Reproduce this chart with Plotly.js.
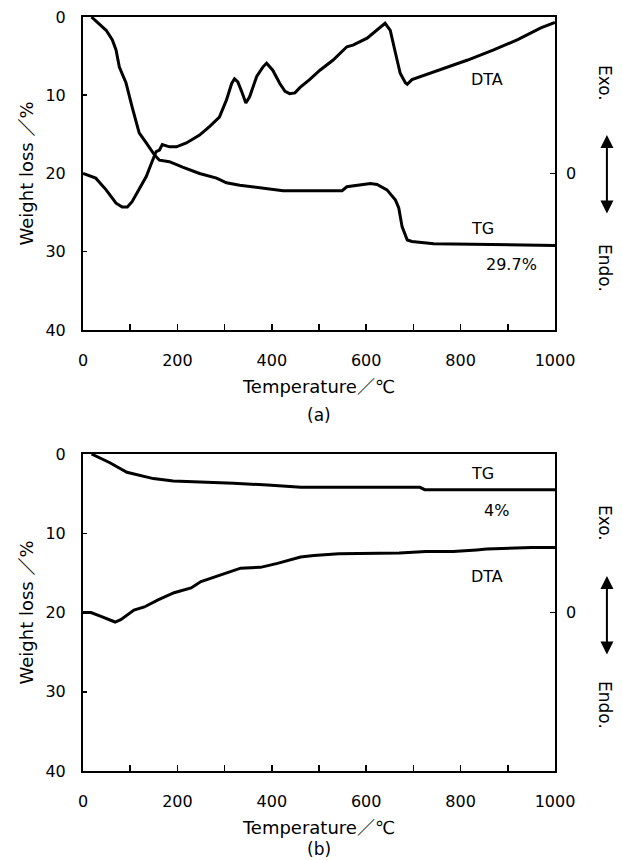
<!DOCTYPE html>
<html>
<head>
<meta charset="utf-8">
<script src="https://cdn.plot.ly/plotly-3.0.1.min.js"></script>
<style>html,body{margin:0;padding:0;background:#fff;}#chart{width:622px;height:860px;}</style>
</head>
<body>
<div id="chart"></div>
<script>
// ---- (a) TG: temperature (°C) and weight loss (%) ----
var tgA_T = [18, 35, 49, 62, 70, 77, 91, 104, 119, 134, 151, 162, 183, 211, 247, 283, 304, 332, 360, 389, 424, 549, 559, 609, 623, 644, 662, 669, 676, 687, 697, 743, 836, 1000];
var tgA_W = [0, 0.9, 1.7, 2.9, 4.2, 6.4, 8.4, 11.5, 14.8, 16.1, 17.6, 18.3, 18.5, 19.2, 20.0, 20.6, 21.2, 21.5, 21.7, 21.9, 22.2, 22.2, 21.7, 21.3, 21.4, 22.1, 23.4, 24.4, 26.8, 28.5, 28.7, 29.0, 29.1, 29.2];

// ---- (a) DTA: temperature (°C) and signal (0 = baseline, + = Exo.) ----
var dtaA_T = [0, 27, 49, 70, 83, 94, 104, 119, 134, 145, 155, 162, 168, 183, 198, 219, 247, 268, 289, 304, 315, 321, 328, 336, 345, 353, 368, 381, 389, 402, 417, 428, 438, 449, 460, 480, 502, 530, 559, 572, 602, 640, 651, 662, 672, 683, 687, 697, 743, 815, 870, 921, 970, 1000];
var dtaA_S = [0, -0.6, -2.1, -3.8, -4.3, -4.3, -3.6, -1.9, -0.4, 1.3, 2.8, 3.0, 3.7, 3.4, 3.4, 3.9, 4.9, 6.0, 7.2, 9.4, 11.5, 12.1, 11.7, 10.5, 9.0, 9.8, 12.4, 13.6, 14.1, 13.2, 11.5, 10.5, 10.2, 10.3, 11.0, 12.0, 13.2, 14.5, 16.2, 16.4, 17.3, 19.2, 18.3, 15.4, 12.8, 11.6, 11.4, 12.0, 13.0, 14.5, 15.8, 17.1, 18.6, 19.3];

// ---- (b) TG ----
var tgB_T = [18, 57, 93, 121, 149, 191, 249, 319, 391, 462, 714, 724, 1000];
var tgB_W = [0, 1.1, 2.3, 2.7, 3.1, 3.4, 3.5, 3.7, 3.9, 4.2, 4.2, 4.5, 4.5];

// ---- (b) DTA ----
var dtaB_T = [0, 17, 38, 55, 68, 80, 93, 108, 130, 159, 193, 229, 250, 278, 306, 334, 376, 412, 461, 489, 542, 670, 727, 784, 834, 855, 951, 1000];
var dtaB_S = [0, 0, -0.5, -0.9, -1.2, -0.9, -0.3, 0.3, 0.7, 1.6, 2.5, 3.1, 3.9, 4.5, 5.1, 5.6, 5.7, 6.2, 7.0, 7.2, 7.4, 7.5, 7.7, 7.7, 7.9, 8.0, 8.2, 8.2];

// ---- axis ticks / labels ----
var weightTicks = [0, 10, 20, 30, 40];
var tempTickVals = [0, 100, 200, 300, 400, 500, 600, 700, 800, 900, 1000];
var tempTickText = ['0', '', '200', '', '400', '', '600', '', '800', '', '1000'];
var dtaTickVals = [0];
var dtaTickText = ['0'];

var FONT = 'DejaVu Sans, Liberation Sans, Noto Sans CJK JP, sans-serif';
var lineStyle = {color: '#000', width: 3};

var traces = [
  {x: tgA_T, y: tgA_W, xaxis: 'x', yaxis: 'y', mode: 'lines', line: lineStyle, name: 'TG (a)'},
  {x: dtaA_T, y: dtaA_S, xaxis: 'x', yaxis: 'y3', mode: 'lines', line: lineStyle, name: 'DTA (a)'},
  {x: tgB_T, y: tgB_W, xaxis: 'x2', yaxis: 'y2', mode: 'lines', line: lineStyle, name: 'TG (b)'},
  {x: dtaB_T, y: dtaB_S, xaxis: 'x2', yaxis: 'y4', mode: 'lines', line: lineStyle, name: 'DTA (b)'}
];

function xAxis(anchor) {
  return {
    anchor: anchor, domain: [0, 1], range: [0, 1000],
    tickvals: tempTickVals, ticktext: tempTickText,
    ticks: 'inside', ticklen: 6, tickwidth: 1.5, tickcolor: '#000',
    showline: true, mirror: true, linewidth: 2, linecolor: '#000',
    showgrid: false, zeroline: false,
    ticklabelstandoff: 15,
    tickfont: {family: FONT, size: 16, color: '#000'},
    title: {text: 'Temperature／℃', font: {family: FONT, size: 18, color: '#000'}, standoff: 11}
  };
}
function yAxis(anchor, domain) {
  return {
    anchor: anchor, domain: domain, range: [40, 0],
    tickvals: weightTicks, ticks: 'inside', ticklen: 4, tickwidth: 1.5, tickcolor: '#000',
    showline: true, mirror: true, linewidth: 2, linecolor: '#000',
    showgrid: false, zeroline: false,
    ticklabelstandoff: 12,
    tickfont: {family: FONT, size: 16, color: '#000'},
    title: {text: 'Weight loss ／%', font: {family: FONT, size: 18, color: '#000'}, standoff: 7}
  };
}
function rAxis(base, anchor) {
  return {
    overlaying: base, anchor: anchor, side: 'right', range: [-20, 20],
    tickvals: dtaTickVals, ticktext: dtaTickText, ticks: 'inside', ticklen: 5, tickwidth: 1.5, tickcolor: '#000',
    showline: false, showgrid: false, zeroline: false,
    ticklabelstandoff: 10,
    tickfont: {family: FONT, size: 16, color: '#000'}
  };
}

var txt = function (t, x, y, xref, yref, extra) {
  var a = {text: t, x: x, y: y, xref: xref, yref: yref, showarrow: false,
           font: {family: FONT, size: 16, color: '#000'}, xanchor: 'center', yanchor: 'middle'};
  for (var k in extra) a[k] = extra[k];
  return a;
};
var arrow = function (yTop) {
  return {text: '', x: 1.11, y: yTop, xref: 'paper', yref: 'paper', showarrow: true,
          ax: 0, ay: 80, axref: 'pixel', ayref: 'pixel', arrowside: 'end+start',
          arrowhead: 2, arrowsize: 1.3, arrowwidth: 2, arrowcolor: '#000', standoff: 0, startstandoff: 0};
};
var sideFont = {family: FONT, size: 17, color: '#000'};
var subFont = {family: FONT, size: 17, color: '#000'};

var layout = {
  width: 622, height: 860,
  margin: {l: 83, r: 67, t: 17, b: 89},
  paper_bgcolor: '#fff', plot_bgcolor: '#fff',
  showlegend: false,
  font: {family: FONT, color: '#000'},
  xaxis: xAxis('y'),
  yaxis: yAxis('x', [0.585, 1]),
  yaxis3: rAxis('y', 'x'),
  xaxis2: xAxis('y2'),
  yaxis2: yAxis('x2', [0, 0.4204]),
  yaxis4: rAxis('y2', 'x2'),
  annotations: [
    txt('DTA', 856, 8.0, 'x', 'y'),
    txt('TG', 847, 27.0, 'x', 'y'),
    txt('29.7%', 907, 31.7, 'x', 'y'),
    txt('TG', 847, 2.4, 'x2', 'y2'),
    txt('4%', 877, 7.1, 'x2', 'y2'),
    txt('DTA', 856, 15.5, 'x2', 'y2'),
    txt('Exo.', 1.106, 0.9125, 'paper', 'paper', {textangle: 90, font: sideFont}),
    txt('Endo.', 1.106, 0.667, 'paper', 'paper', {textangle: 90, font: sideFont}),
    txt('Exo.', 1.106, 0.329, 'paper', 'paper', {textangle: 90, font: sideFont}),
    txt('Endo.', 1.106, 0.0875, 'paper', 'paper', {textangle: 90, font: sideFont}),
    arrow(0.8435),
    arrow(0.2586),
    txt('(a)', 0.5, 0.472, 'paper', 'paper', {font: subFont}),
    txt('(b)', 0.5, -0.104, 'paper', 'paper', {font: subFont})
  ]
};

Plotly.newPlot('chart', traces, layout, {displayModeBar: false, staticPlot: true});
</script>
</body>
</html>
